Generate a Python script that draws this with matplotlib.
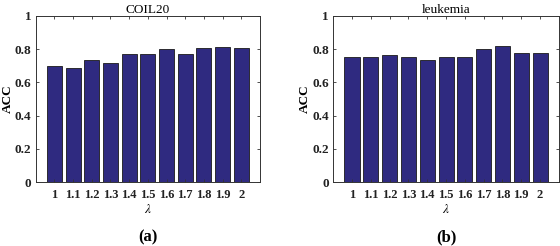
import matplotlib
matplotlib.use('Agg')
import matplotlib.pyplot as plt
import numpy as np

# data
lambdas = ['1', '1.1', '1.2', '1.3', '1.4', '1.5', '1.6', '1.7', '1.8', '1.9', '2']
acc_coil20 = [0.700, 0.684, 0.732, 0.716, 0.768, 0.768, 0.802, 0.768, 0.806, 0.812, 0.804]
acc_leukemia = [0.750, 0.750, 0.762, 0.750, 0.734, 0.750, 0.750, 0.802, 0.816, 0.776, 0.776]
titles = ['COIL20', 'leukemia']
panel_labels = ['(a)', '(b)']
yticks = [0, 0.2, 0.4, 0.6, 0.8, 1]
ytick_labels = ['0', '0.2', '0.4', '0.6', '0.8', '1']

plt.rcParams['font.family'] = ['Liberation Serif', 'DejaVu Serif']
plt.rcParams['mathtext.fontset'] = 'stix'

fig = plt.figure(figsize=(5.6, 2.46), dpi=100)
positions = [[0.0638, 0.259, 0.4005, 0.677], [0.595, 0.259, 0.403, 0.677]]
series = [acc_coil20, acc_leukemia]

x = np.arange(1, len(lambdas) + 1)
for pos, vals, title, lab in zip(positions, series, titles, panel_labels):
    ax = fig.add_axes(pos)
    ax.bar(x, vals, width=0.8, color='#2f2a80', edgecolor='#1a1a1a', linewidth=0.6)
    ax.set_xlim(0, 12)
    ax.set_ylim(0, 1)
    ax.set_xticks(x)
    ax.set_xticklabels(lambdas, fontsize=9, fontweight='bold')
    ax.set_yticks(yticks)
    ax.set_yticklabels(ytick_labels, fontsize=9.5, fontweight='bold')
    ax.tick_params(direction='in', length=2.5, width=0.6, top=True, right=True,
                   colors='#333333')
    ax.tick_params(axis='x', pad=5)
    ax.tick_params(axis='y', pad=3)
    for lbl in ax.get_xticklabels() + ax.get_yticklabels():
        lbl.set_color('#222222')
    for sp in ax.spines.values():
        sp.set_color('#333333')
        sp.set_linewidth(0.7)
    ax.set_title(title, fontsize=9.5, pad=2)
    ax.set_ylabel('ACC', fontsize=9.5, fontweight='bold', labelpad=1)
    ax.set_xlabel(r'$\lambda$', fontsize=9.5, labelpad=1)
    ax.text(0.5, -0.33, lab, transform=ax.transAxes, ha='center', va='center',
            fontsize=12, fontweight='bold')

fig.savefig('out.png', dpi=100)
